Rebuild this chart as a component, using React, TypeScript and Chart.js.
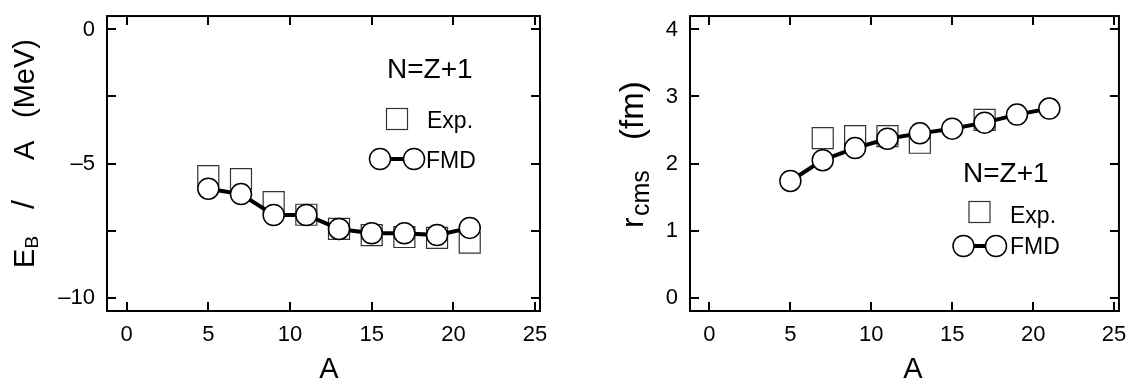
import React, { useEffect, useRef } from "react";
import { Chart, registerables } from "chart.js";

Chart.register(...registerables);

// ---- data ----
const massNumbers = [5, 7, 9, 11, 13, 15, 17, 19, 21];
const ebExp = [-5.47, -5.58, -6.44, -6.91, -7.44, -7.67, -7.74, -7.77, -7.95];
const ebFmd = [-5.94, -6.14, -6.92, -6.92, -7.44, -7.6, -7.6, -7.67, -7.4];
const rExpMass = [7, 9, 11, 13, 17];
const rExp = [2.38, 2.41, 2.41, 2.31, 2.65];
const rFmd = [1.74, 2.05, 2.23, 2.37, 2.45, 2.52, 2.61, 2.73, 2.82];
const xTicks = [0, 5, 10, 15, 20, 25];
const ebTicks = [-10, -7.5, -5, -2.5, 0];
const ebLabeled = [-10, -5, 0];
const rTicks = [0, 1, 2, 3, 4];

const FONT = "'Liberation Sans', Arial, Helvetica, sans-serif";
const TL = 9;

type Piece = { text: string; size: number; start: number; shift: number };
type Spec = {
  canvasLeft: number;
  width: number;
  yWidth: number;
  padRight: number;
  yMin: number;
  yMax: number;
  yTicks: number[];
  yLabel: (v: number) => string;
  exp: { x: number; y: number }[];
  fmd: { x: number; y: number }[];
  xTitleX: number;
  titleBase: number;
  titlePieces: Piece[];
  legend: {
    nzX: number; nzBase: number;
    sqX: number; sqY: number; expX: number; expBase: number;
    c1X: number; c2X: number; cY: number; fmdX: number; fmdBase: number;
  };
};

function decor(p: Spec) {
  return {
    id: "decor",
    afterDraw(chart: any) {
      const ctx: CanvasRenderingContext2D = chart.ctx;
      const { left, right, top, bottom } = chart.chartArea;
      const xs = chart.scales.x;
      const ys = chart.scales.y;
      ctx.save();
      ctx.strokeStyle = "#000";
      ctx.lineWidth = 2;
      ctx.strokeRect(left, top, right - left, bottom - top);
      ctx.beginPath();
      for (const v of xTicks) {
        const px = Math.round(xs.getPixelForValue(v));
        ctx.moveTo(px, bottom);
        ctx.lineTo(px, bottom - TL);
        ctx.moveTo(px, top);
        ctx.lineTo(px, top + TL);
      }
      for (const v of p.yTicks) {
        const py = Math.round(ys.getPixelForValue(v));
        ctx.moveTo(left, py);
        ctx.lineTo(left + TL, py);
        ctx.moveTo(right, py);
        ctx.lineTo(right - TL, py);
      }
      ctx.stroke();

      // x title
      ctx.fillStyle = "#000";
      ctx.textAlign = "center";
      ctx.textBaseline = "alphabetic";
      ctx.font = `29px ${FONT}`;
      ctx.fillText("A", p.xTitleX, 378);

      // y title (rotated pieces)
      for (const pc of p.titlePieces) {
        ctx.save();
        ctx.translate(p.titleBase + pc.shift, pc.start);
        ctx.rotate(-Math.PI / 2);
        ctx.font = `${pc.size}px ${FONT}`;
        ctx.textAlign = "left";
        ctx.fillText(pc.text, 0, 0);
        ctx.restore();
      }

      // legend
      const L = p.legend;
      ctx.textAlign = "left";
      ctx.font = `28px ${FONT}`;
      ctx.fillText("N=Z+1", L.nzX, L.nzBase);
      ctx.font = `23px ${FONT}`;
      ctx.strokeStyle = "#333";
      ctx.lineWidth = 1.2;
      ctx.strokeRect(L.sqX - 10.5, L.sqY - 10.5, 21, 21);
      ctx.fillText("Exp.", L.expX, L.expBase);
      ctx.strokeStyle = "#000";
      ctx.lineWidth = 4;
      ctx.beginPath();
      ctx.moveTo(L.c1X, L.cY);
      ctx.lineTo(L.c2X, L.cY);
      ctx.stroke();
      ctx.lineWidth = 1.5;
      for (const cx of [L.c1X, L.c2X]) {
        ctx.beginPath();
        ctx.arc(cx, L.cY, 10.5, 0, Math.PI * 2);
        ctx.fillStyle = "#fff";
        ctx.fill();
        ctx.stroke();
      }
      ctx.fillStyle = "#000";
      ctx.fillText("FMD", L.fmdX, L.fmdBase);
      ctx.restore();
    },
  };
}

function makeConfig(p: Spec): any {
  const tickFont = { family: FONT, size: 22 };
  return {
    type: "scatter",
    data: {
      datasets: [
        {
          label: "FMD",
          data: p.fmd,
          showLine: true,
          borderColor: "#000",
          borderWidth: 4,
          pointRadius: 10.5,
          pointHoverRadius: 10.5,
          pointBorderWidth: 1.5,
          pointBackgroundColor: "#fff",
          pointBorderColor: "#000",
          order: 0,
        },
        {
          label: "Exp.",
          data: p.exp,
          showLine: false,
          pointStyle: "rect",
          pointRadius: 14.85,
          pointHoverRadius: 14.85,
          pointBorderWidth: 1.2,
          pointBackgroundColor: "rgba(0,0,0,0)",
          pointBorderColor: "#333",
          order: 1,
        },
      ],
    },
    options: {
      responsive: false,
      animation: false,
      devicePixelRatio: 1,
      layout: { padding: { left: 0, top: 8, right: p.padRight, bottom: 0 } },
      plugins: { legend: { display: false }, tooltip: { enabled: false } },
      events: [],
      scales: {
        x: {
          type: "linear",
          min: -1.2,
          max: 25.3,
          grid: { display: false, drawTicks: false },
          border: { display: false },
          afterBuildTicks: (s: any) => {
            s.ticks = xTicks.map((v) => ({ value: v }));
          },
          afterFit: (s: any) => {
            s.height = 72;
            s.paddingLeft = 0;
            s.paddingRight = 0;
          },
          ticks: {
            font: tickFont,
            color: "#000",
            padding: 11,
            maxRotation: 0,
            callback: (v: number) => String(v),
          },
        },
        y: {
          type: "linear",
          min: p.yMin,
          max: p.yMax,
          grid: { display: false, drawTicks: false },
          border: { display: false },
          afterBuildTicks: (s: any) => {
            s.ticks = p.yTicks.map((v) => ({ value: v }));
          },
          afterFit: (s: any) => {
            s.width = p.yWidth;
            s.paddingTop = 0;
            s.paddingBottom = 0;
          },
          ticks: {
            font: tickFont,
            color: "#000",
            padding: 12,
            callback: (v: number) => p.yLabel(v),
          },
        },
      },
    },
    plugins: [decor(p)],
  };
}

const pts = (xs: number[], ys: number[]) => xs.map((x, i) => ({ x, y: ys[i] }));

const leftSpec: Spec = {
  canvasLeft: 0,
  width: 567,
  yWidth: 107,
  padRight: 27,
  yMin: -10.5,
  yMax: 0.5,
  yTicks: ebTicks,
  yLabel: (v) => (ebLabeled.includes(v) ? (v < 0 ? "\u2013" + Math.abs(v) : String(v)) : ""),
  exp: pts(massNumbers, ebExp),
  fmd: pts(massNumbers, ebFmd),
  xTitleX: 329,
  titleBase: 34,
  titlePieces: [
    { text: "E", size: 29, start: 268, shift: 0 },
    { text: "B", size: 19, start: 248.5, shift: 4 },
    { text: "/", size: 32, start: 209, shift: 0 },
    { text: "A", size: 29, start: 160, shift: 0 },
    { text: "(MeV)", size: 29, start: 118, shift: 0 },
  ],
  legend: {
    nzX: 387, nzBase: 78,
    sqX: 397, sqY: 119, expX: 427, expBase: 128,
    c1X: 380, c2X: 414, cY: 159, fmdX: 426, fmdBase: 168,
  },
};

const rightSpec: Spec = {
  canvasLeft: 580,
  width: 555,
  yWidth: 110,
  padRight: 14,
  yMin: -0.2,
  yMax: 4.2,
  yTicks: rTicks,
  yLabel: (v) => String(v),
  exp: pts(rExpMass, rExp),
  fmd: pts(massNumbers, rFmd),
  xTitleX: 333,
  titleBase: 63,
  titlePieces: [
    { text: "r", size: 32, start: 228, shift: 0 },
    { text: "cms", size: 25, start: 216, shift: 6 },
    { text: "(fm)", size: 33, start: 140, shift: 0 },
  ],
  legend: {
    nzX: 383, nzBase: 182,
    sqX: 399.5, sqY: 212, expX: 430, expBase: 222.5,
    c1X: 383.5, c2X: 416, cY: 246, fmdX: 430, fmdBase: 254,
  },
};

function Panel({ spec }: { spec: Spec }) {
  const ref = useRef<HTMLCanvasElement>(null);
  useEffect(() => {
    const chart = new Chart(ref.current as HTMLCanvasElement, makeConfig(spec));
    return () => chart.destroy();
  }, [spec]);
  return (
    <canvas
      ref={ref}
      width={spec.width}
      height={383}
      style={{ position: "absolute", left: spec.canvasLeft, top: 0, width: spec.width, height: 383 }}
    />
  );
}

export default function App() {
  return (
    <div style={{ position: "absolute", left: 0, top: 0, width: 1135, height: 383, background: "#fff" }}>
      <Panel spec={leftSpec} />
      <Panel spec={rightSpec} />
    </div>
  );
}
